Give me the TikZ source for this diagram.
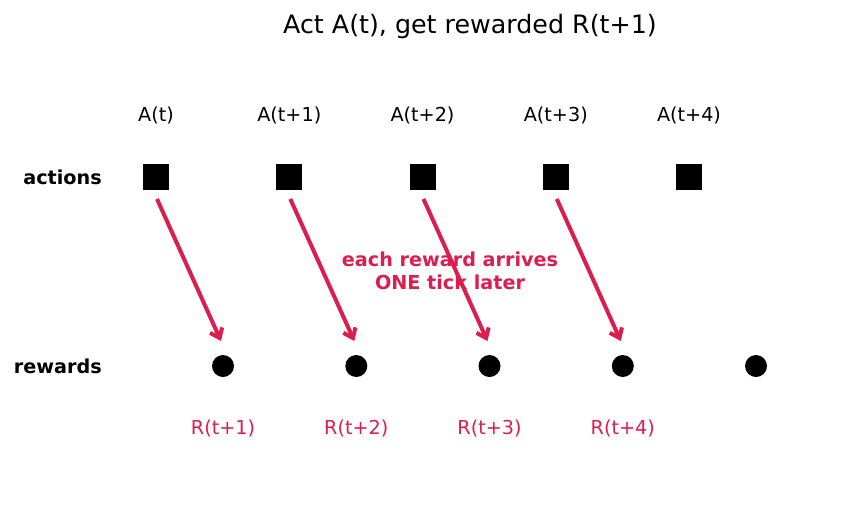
\documentclass[tikz,border=0pt]{standalone}
\usepackage{fontspec}
\setmainfont{DejaVu Sans}
\usepackage{tikz}
\usetikzlibrary{arrows.meta, positioning}
\definecolor{rewardred}{RGB}{220,30,78}
\tikzset{
every node/.style={font=\fontsize{14.4}{17.3}\selectfont}, % default text size
act/.style={draw=none, fill=black, minimum size=19.5pt, inner sep=0pt}, % action squares
rew/.style={circle, draw=none, fill=black, minimum size=16.5pt, inner sep=0pt}, % reward dots
rowlabel/.style={anchor=east, inner sep=0pt, font=\fontsize{14.4}{17.3}\selectfont\bfseries}, % row names on the left
rlabel/.style={text=rewardred}, % reward texts
}
\tikzset{
  rewardarrow/.style={draw=rewardred, line width=3pt, -{Straight Barb[length=6.5pt, width=10pt]}}
}

\begin{document}
\begin{tikzpicture}[x=0.75pt, y=-0.75pt]
      \useasboundingbox (0,0) rectangle (863,512);
      \node[font=\fontsize{19}{23}\selectfont] (title) at (470,27) {Act A(t), get rewarded R(t+1)};

      \node[rowlabel] (actions) at (102,177) {actions};
      \node[rowlabel] (rewards) at (102,366) {rewards};

      \foreach \i/\x/\t in {0/156/t, 1/289.3/t+1, 2/422.5/t+2, 3/555.8/t+3, 4/689/t+4} {
        \node[act] (a\i) at (\x,177) {};
        \node (at\i) at (\x,115) {A(\t)};
        \node[rew] (r\i) at (\x+67,366) {};
      }
      \foreach \i/\x/\t in {0/223/t+1, 1/356.3/t+2, 2/489.5/t+3, 3/622.8/t+4}
        \node[rlabel] (rt\i) at (\x,428) {R(\t)};

      \node[align=center, text=rewardred, font=\fontsize{14.4}{17.3}\selectfont\bfseries] (note) at (450,271)
        {each reward arrives\\ONE tick later};

      \foreach \i/\x in {0/156, 1/289.3, 2/422.5, 3/555.8} {
        \coordinate (s\i) at (\x+1,199);
        \coordinate (e\i) at (\x+65,341);
        \draw[rewardarrow] (s\i) -- (e\i);
      }
    \end{tikzpicture}
\end{document}
